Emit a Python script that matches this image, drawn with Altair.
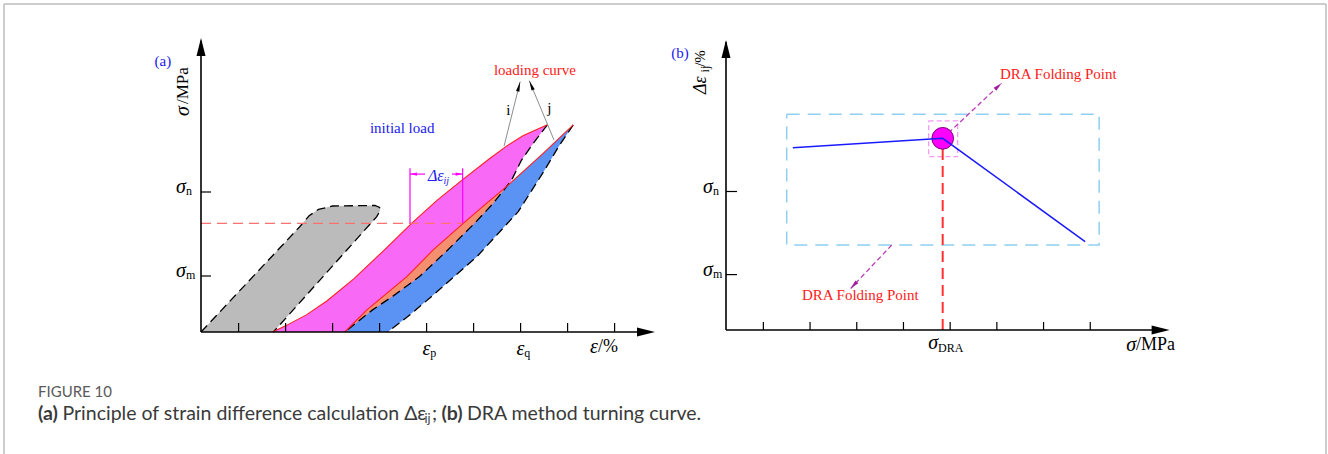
import math
import altair as alt
import pandas as pd

# ================= DATA =================
# ---- panel (a): schematic stress-strain loops (x: strain tick units, y: stress units) ----
A_XTICKS = [1, 2, 3, 4, 5, 6, 7, 8, 9]
A_YTICKS = [2, 5]
A_YSUBS = ["m", "n"]
A_XLAB_TICKS = [5, 7]
A_XSUBS = ["p", "q"]

GREY_X = [0.20, 2.30, 2.50, 2.70, 3.00, 3.90, 4.00, 4.01, 3.94, 1.74]
GREY_Y = [0.00, 3.76, 4.15, 4.38, 4.50, 4.52, 4.45, 4.33, 4.12, 0.00]

L0_X = [1.72, 1.99, 2.45, 2.87, 3.45, 4.07, 4.68, 5.22, 5.78, 6.33, 6.70, 7.06, 7.57]
L0_Y = [0.00, 0.21, 0.62, 1.10, 1.90, 2.88, 3.88, 4.70, 5.46, 6.18, 6.64, 7.02, 7.40]

L1_X = [3.26, 3.73, 4.58, 5.14, 5.78, 6.28, 6.70, 7.48, 8.12]
L1_Y = [0.00, 0.79, 1.98, 2.93, 3.88, 4.60, 5.19, 6.38, 7.40]
L1_CROSS = 6

D1_X = [7.57, 7.27, 7.02, 6.81, 6.70, 6.42, 6.02, 5.45, 4.85, 4.30, 3.85, 3.26]
D1_Y = [7.40, 6.74, 6.14, 5.43, 5.19, 4.60, 3.88, 2.93, 1.98, 1.30, 0.79, 0.00]
D1_CROSS = 4

D2_X = [8.12, 7.80, 7.50, 6.95, 6.07, 5.10, 4.60, 4.17]
D2_Y = [7.40, 6.60, 5.75, 4.30, 2.69, 1.26, 0.55, 0.00]

LEVEL_Y = 3.88
DEPS_X = [4.647, 5.767]
DEPS_TOP = 5.85
DEPS_ARROW_Y = 5.64
DEPS_GAP = [4.966, 5.54]

ARROW_I = [6.65, 6.65, 6.99, 8.94]
ARROW_J = [7.71, 6.86, 7.185, 8.975]

# ---- panel (b): DRA turning curve ----
B_XTICKS = [1, 2, 3, 4, 5, 6, 7, 8]
B_YTICKS = [2, 5]
B_YSUBS = ["m", "n"]
B_LINE_X = [1.63, 4.84, 7.89]
B_LINE_Y = [6.58, 6.92, 3.19]
B_FOLD_X = 4.84
B_FOLD_Y = 6.92
B_BOX = [1.50, 8.19, 3.07, 7.79]
B_SQ = [4.54, 5.16, 6.26, 7.55]
B_ARROW1 = [4.84, 6.92, 6.10, 8.91]
B_ARROW2 = [3.75, 3.07, 2.87, 1.50]

# ================= LAYOUT =================
W, H = 664, 454
UA = (47.0, 28.0)
OA = (201.0, 332.0)
UB = (46.7, 27.7)
OB = (62.0, 330.0)
X0 = 0.2
SERIF = "Liberation Serif"
BLUE_T = "#2020f0"
RED_T = "#ff2020"


def make_scales(origin, unit):
    ox, oy = origin
    ux, uy = unit
    sx = alt.Scale(domain=[X0 - ox / ux, X0 + (W - ox) / ux], nice=False, zero=False)
    sy = alt.Scale(domain=[-(H - oy) / uy, oy / uy], nice=False, zero=False)
    return sx, sy


SAX, SAY = make_scales(OA, UA)
SBX, SBY = make_scales(OB, UB)


def enc(ch, sx, sy, **extra):
    return ch.encode(x=alt.X("x:Q", scale=sx, axis=None),
                     y=alt.Y("y:Q", scale=sy, axis=None), **extra)


def pts(xs, ys):
    return pd.DataFrame({"x": list(xs), "y": list(ys), "i": list(range(len(xs)))})


def poly(xs, ys, fill, sx, sy):
    return enc(alt.Chart(pts(xs, ys)).mark_line(fill=fill, strokeOpacity=0, interpolate="linear"),
               sx, sy, order=alt.Order("i:Q"))


def pline(xs, ys, sx, sy, **kw):
    return enc(alt.Chart(pts(xs, ys)).mark_line(**kw), sx, sy, order=alt.Order("i:Q"))


def segs(rows, sx, sy, **kw):
    df = pd.DataFrame(rows, columns=["x", "y", "x2", "y2"])
    return alt.Chart(df).mark_rule(**kw).encode(
        x=alt.X("x:Q", scale=sx, axis=None), y=alt.Y("y:Q", scale=sy, axis=None),
        x2="x2:Q", y2="y2:Q")


def heads(rows, unit, length, ratio, color, sx, sy):
    ux, uy = unit
    out = []
    for x1, y1, x2, y2 in rows:
        dxp = (x2 - x1) * ux
        dyp = -(y2 - y1) * uy
        n = math.hypot(dxp, dyp)
        ang = math.degrees(math.atan2(dxp, -dyp)) % 360
        out.append({"x": x2 - dxp / n * (length / 2) / ux,
                    "y": y2 + dyp / n * (length / 2) / uy, "a": ang})
    shape = f"M0,-1L{ratio},1L-{ratio},1Z"
    return enc(alt.Chart(pd.DataFrame(out)).mark_point(shape=shape, size=length * length, filled=True,
                                                       color=color, opacity=1, strokeWidth=0),
               sx, sy, angle=alt.Angle("a:Q", scale=None))


def text(x, y, t, sx, sy, **kw):
    df = pd.DataFrame({"x": [x], "y": [y], "t": [t]})
    kw.setdefault("font", SERIF)
    return enc(alt.Chart(df).mark_text(**kw), sx, sy, text="t:N")


def ptext(px, py, t, **kw):
    return alt.Chart(pd.DataFrame({"d": [0]})).mark_text(**kw).encode(
        x=alt.value(px), y=alt.value(py), text=alt.value(t))


# ================= PANEL (a) =================
A = []
# fills
A.append(poly(L1_X + D2_X, L1_Y + D2_Y, "#5b93f5", SAX, SAY))
A.append(poly(L0_X + D1_X, L0_Y + D1_Y, "#f86af6", SAX, SAY))
A.append(poly(L1_X[:L1_CROSS + 1] + D1_X[D1_CROSS:], L1_Y[:L1_CROSS + 1] + D1_Y[D1_CROSS:], "#f49070", SAX, SAY))
A.append(poly(GREY_X, GREY_Y, "#bbbbbb", SAX, SAY))
# outlines
A.append(pline(GREY_X, GREY_Y, SAX, SAY, color="black", strokeWidth=1.3, strokeDash=[9, 5]))
A.append(pline(D1_X, D1_Y, SAX, SAY, color="black", strokeWidth=1.3, strokeDash=[9, 5]))
A.append(pline(D2_X, D2_Y, SAX, SAY, color="black", strokeWidth=1.3, strokeDash=[9, 5]))
A.append(pline(L0_X, L0_Y, SAX, SAY, color="#ff2020", strokeWidth=1.1))
A.append(pline(L1_X, L1_Y, SAX, SAY, color="#ff2020", strokeWidth=1.1))
# stress level dashed line
A.append(segs([[X0, LEVEL_Y, DEPS_X[1], LEVEL_Y]], SAX, SAY, color="#ff7070", strokeWidth=1.2, strokeDash=[10, 6]))
# delta-epsilon markers
A.append(segs([[DEPS_X[0], LEVEL_Y, DEPS_X[0], DEPS_TOP], [DEPS_X[1], LEVEL_Y, DEPS_X[1], DEPS_TOP],
               [DEPS_GAP[0], DEPS_ARROW_Y, DEPS_X[0], DEPS_ARROW_Y], [DEPS_GAP[1], DEPS_ARROW_Y, DEPS_X[1], DEPS_ARROW_Y]],
              SAX, SAY, color="#ff00ff", strokeWidth=1.2))
A.append(heads([[DEPS_GAP[0], DEPS_ARROW_Y, DEPS_X[0], DEPS_ARROW_Y], [DEPS_GAP[1], DEPS_ARROW_Y, DEPS_X[1], DEPS_ARROW_Y]],
               UA, 7, 0.45, "#ff00ff", SAX, SAY))
# i / j arrows
A.append(segs([ARROW_I, ARROW_J], SAX, SAY, color="#8c8c8c", strokeWidth=1))
A.append(heads([ARROW_I, ARROW_J], UA, 10, 0.35, "black", SAX, SAY))
# axes
A.append(segs([[X0, 0, X0, 10.4], [X0, 0, 9.75, 0]], SAX, SAY, color="black", strokeWidth=1.6))
A.append(segs([[t, 0, t, 9 / UA[1]] for t in A_XTICKS] + [[X0, t, X0 + 10 / UA[0], t] for t in A_YTICKS],
              SAX, SAY, color="black", strokeWidth=1.2))
A.append(heads([[X0, 0, X0, 10.5], [X0, 0, 9.86, 0]], UA, 18, 0.5, "black", SAX, SAY))
# texts
A.append(text(-0.61, 9.69, "(a)", SAX, SAY, fontSize=15, color=BLUE_T))
A.append(text(-0.177, 7.89, "σ", SAX, SAY, fontSize=20, fontStyle="italic", angle=270))
A.append(text(-0.177, 8.80, "/MPa", SAX, SAY, fontSize=17, angle=270))
for t, s in zip(A_YTICKS, A_YSUBS):
    A.append(text(-0.12, t + 0.17, "σ", SAX, SAY, fontSize=20, fontStyle="italic", align="right"))
    A.append(text(-0.12, t + 0.02, s, SAX, SAY, fontSize=12, align="left"))
for t, s in zip(A_XLAB_TICKS, A_XSUBS):
    A.append(text(t + 0.08, -0.60, "ε", SAX, SAY, fontSize=20, fontStyle="italic", align="right"))
    A.append(text(t + 0.08, -0.76, s, SAX, SAY, fontSize=12, align="left"))
A.append(text(8.647, -0.55, "ε", SAX, SAY, fontSize=20, fontStyle="italic", align="right"))
A.append(text(8.647, -0.55, "/%", SAX, SAY, fontSize=18, align="left"))
A.append(text(4.48, 7.27, "initial load", SAX, SAY, fontSize=15, color=BLUE_T))
A.append(text(7.306, 9.357, "loading curve", SAX, SAY, fontSize=15, color=RED_T))
A.append(text(6.74, 7.93, "i", SAX, SAY, fontSize=15))
A.append(text(7.61, 7.99, "j", SAX, SAY, fontSize=15))
A.append(text(5.196, 5.579, "Δε", SAX, SAY, fontSize=16, fontStyle="italic", color=BLUE_T))
A.append(text(5.36, 5.40, "ij", SAX, SAY, fontSize=10, fontStyle="italic", color=BLUE_T, align="left"))
# frame + caption (pixel placed)
FRAME = "#bdbdbd"
A.append(alt.Chart(pd.DataFrame({"d": [0]})).mark_rule(color=FRAME, strokeWidth=1.5).encode(
    x=alt.value(4), y=alt.value(4), y2=alt.value(454)))
A.append(alt.Chart(pd.DataFrame({"d": [0]})).mark_rule(color=FRAME, strokeWidth=1.5).encode(
    x=alt.value(4), x2=alt.value(1326), y=alt.value(4)))
A.append(alt.Chart(pd.DataFrame({"d": [0]})).mark_rule(color=FRAME, strokeWidth=1.5).encode(
    x=alt.value(1326), y=alt.value(4), y2=alt.value(454)))
CAP_FONT = "Lato"
CAP_SIZE = 19.5
CAP_COL = "#3a3a3a"
A.append(ptext(38, 392, "FIGURE 10", font=CAP_FONT, fontSize=15, color="#5a5a5a", align="left", baseline="middle"))
A.append(ptext(38, 414, "(a)", font=CAP_FONT, fontSize=CAP_SIZE, fontWeight="bold", color=CAP_COL, align="left", baseline="middle"))
A.append(ptext(62.5, 414, "Principle of strain difference calculation Δε", font=CAP_FONT, fontSize=CAP_SIZE, color=CAP_COL, align="left", baseline="middle"))
A.append(ptext(424.5, 419, "ij", font=CAP_FONT, fontSize=12.5, color=CAP_COL, align="left", baseline="middle"))
A.append(ptext(432, 414, ";", font=CAP_FONT, fontSize=CAP_SIZE, color=CAP_COL, align="left", baseline="middle"))
A.append(ptext(441.5, 414, "(b)", font=CAP_FONT, fontSize=CAP_SIZE, fontWeight="bold", color=CAP_COL, align="left", baseline="middle"))
A.append(ptext(467, 414, "DRA method turning curve.", font=CAP_FONT, fontSize=CAP_SIZE, color=CAP_COL, align="left", baseline="middle"))

panel_a = alt.layer(*A).properties(width=W, height=H)

# ================= PANEL (b) =================
B = []
bx0, bx1, by0, by1 = B_BOX
B.append(pline([bx0, bx1, bx1, bx0, bx0], [by1, by1, by0, by0, by1], SBX, SBY,
               color="#8fd0f2", strokeWidth=1.5, strokeDash=[13, 8]))
sx0, sx1, sy0, sy1 = B_SQ
B.append(pline([sx0, sx1, sx1, sx0, sx0], [sy1, sy1, sy0, sy0, sy1], SBX, SBY,
               color="#f59af5", strokeWidth=1.3, strokeDash=[5, 3]))
B.append(segs([[B_FOLD_X, 0, B_FOLD_X, B_FOLD_Y]], SBX, SBY, color="#ff3030", strokeWidth=2, strokeDash=[11, 6]))
B.append(segs([B_ARROW1, B_ARROW2], SBX, SBY, color="#b83cb8", strokeWidth=1.3, strokeDash=[5, 3]))
B.append(heads([B_ARROW1, B_ARROW2], UB, 9, 0.45, "#a020a0", SBX, SBY))
B.append(enc(alt.Chart(pd.DataFrame({"x": [B_FOLD_X], "y": [B_FOLD_Y]})).mark_circle(
    size=470, color="#ff00ff", opacity=1, stroke="#7a007a", strokeWidth=1), SBX, SBY))
B.append(pline(B_LINE_X, B_LINE_Y, SBX, SBY, color="#1a1aff", strokeWidth=1.5))
# axes
B.append(segs([[X0, 0, X0, 10.4], [X0, 0, 9.6, 0]], SBX, SBY, color="black", strokeWidth=1.6))
B.append(segs([[t, 0, t, 8 / UB[1]] for t in B_XTICKS] + [[X0, t, X0 + 11 / UB[0], t] for t in B_YTICKS],
              SBX, SBY, color="black", strokeWidth=1.2))
B.append(heads([[X0, 0, X0, 10.47], [X0, 0, 9.7, 0]], UB, 18, 0.5, "black", SBX, SBY))
# texts
B.append(text(-0.785, 10.01, "(b)", SBX, SBY, fontSize=15, color=BLUE_T))
B.append(text(-0.335, 8.84, "Δε", SBX, SBY, fontSize=18, fontStyle="italic", angle=270))
B.append(text(-0.25, 9.42, "ij", SBX, SBY, fontSize=12, angle=270))
B.append(text(-0.357, 9.80, "/%", SBX, SBY, fontSize=15, angle=270))
for t, s in zip(B_YTICKS, B_YSUBS):
    B.append(text(-0.08, t + 0.17, "σ", SBX, SBY, fontSize=20, fontStyle="italic", align="right"))
    B.append(text(-0.08, t + 0.02, s, SBX, SBY, fontSize=12, align="left"))
B.append(text(4.74, -0.47, "σ", SBX, SBY, fontSize=20, fontStyle="italic", align="right"))
B.append(text(4.74, -0.66, "DRA", SBX, SBY, fontSize=12, align="left"))
B.append(text(8.98, -0.54, "σ", SBX, SBY, fontSize=20, fontStyle="italic", align="right"))
B.append(text(8.98, -0.54, "/MPa", SBX, SBY, fontSize=18, align="left"))
B.append(text(6.067, 9.23, "DRA Folding Point", SBX, SBY, fontSize=15, color=RED_T, align="left"))
B.append(text(3.076, 1.264, "DRA Folding Point", SBX, SBY, fontSize=15, color=RED_T))

panel_b = alt.layer(*B).properties(width=W, height=H)

chart = alt.hconcat(panel_a, panel_b, spacing=0, bounds="flush").properties(
    padding=0, background="white"
).configure_view(stroke=None)

chart.save("out.html", embed_options={"renderer": "svg", "actions": False})
